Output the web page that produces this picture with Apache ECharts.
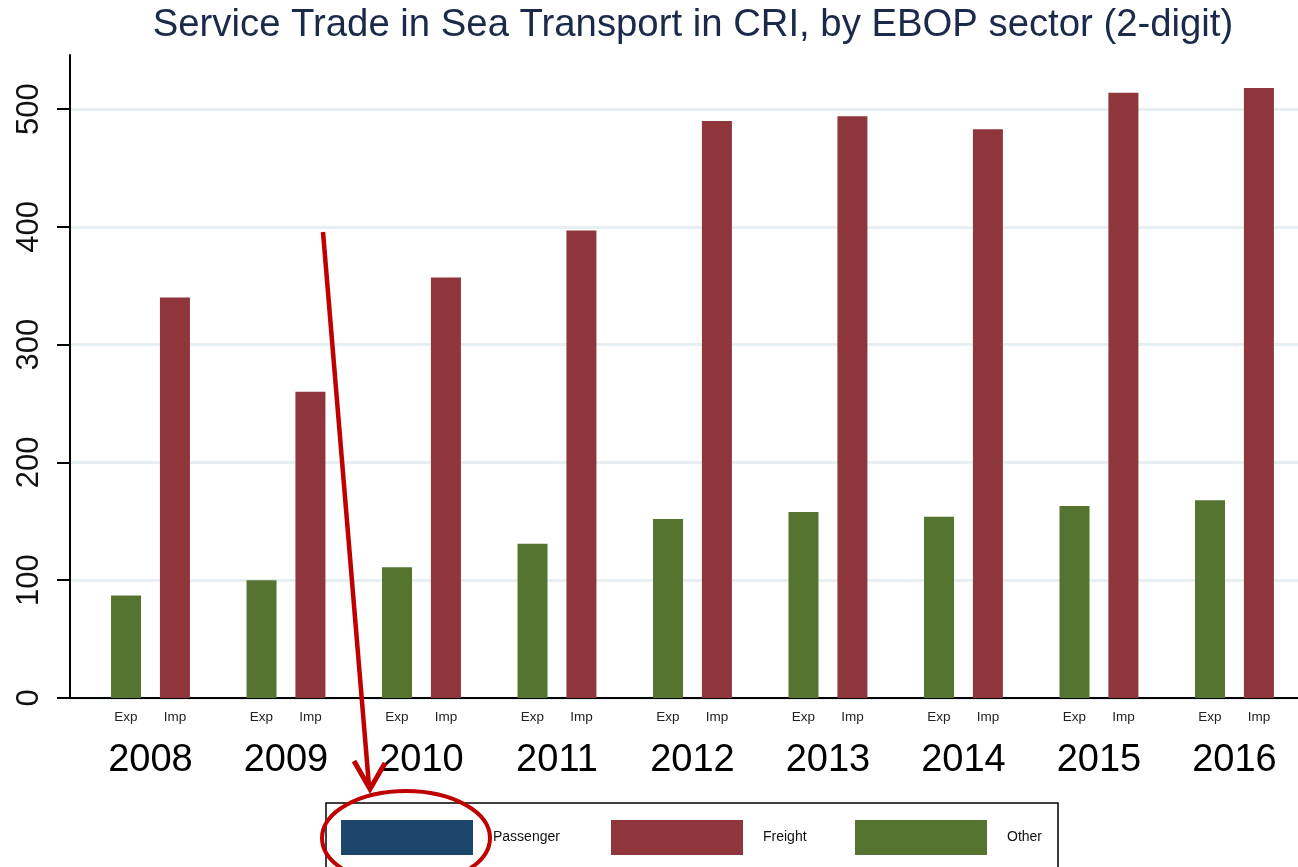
<!DOCTYPE html>
<html>
<head>
<meta charset="utf-8">
<script src="https://cdn.jsdelivr.net/npm/echarts@6/dist/echarts.min.js"></script>
<style>
    html, body { margin: 0; padding: 0; background: #fff; }
    #chart { width: 1298px; height: 867px; }
</style>
</head>
<body>
<div id="chart"></div>
<script>
    // data
    var years = [2008, 2009, 2010, 2011, 2012, 2013, 2014, 2015, 2016];
    var expOther = [87, 100, 111, 131, 152, 158, 154, 163, 168];
    var impFreight = [340, 260, 357, 397, 490, 494, 483, 514, 518];
    var passenger = [0, 0, 0, 0, 0, 0, 0, 0, 0];
    var yTicks = [0, 100, 200, 300, 400, 500];
    var flowLabels = ['Exp', 'Imp'];

    var blue = '#1c466c', red = '#8f353c', green = '#55742f';
    var font = '"Liberation Sans", Arial, sans-serif';

    function pairs(arr) {
        return years.map(function (y, i) { return [y, arr[i]]; });
    }

    var chart = echarts.init(document.getElementById('chart'));

    function legendAt(name, left) {
        return {
            data: [name],
            left: left,
            top: 815,
            itemWidth: 132,
            itemHeight: 35,
            icon: 'rect',
            textStyle: { fontFamily: font, fontSize: 14, color: '#111', padding: [0, 0, 0, 15] }
        };
    }

    var option = {
        animation: false,
        title: {
            text: 'Service Trade in Sea Transport in CRI, by EBOP sector (2-digit)',
            left: 688,
            top: 1,
            textAlign: 'center',
            textStyle: { fontFamily: font, fontSize: 38.3, fontWeight: 'normal', color: '#1b2a4b' }
        },
        legend: [
            legendAt('Passenger', 336),
            legendAt('Freight', 606),
            legendAt('Other', 850)
        ],
        grid: { left: 70, right: 0, top: 55, bottom: 169 },
        xAxis: {
            type: 'value',
            min: 2007.406,
            max: 2016.469,
            splitLine: { show: false },
            axisTick: { show: false },
            axisLine: { show: true, onZero: false, lineStyle: { color: '#000', width: 2 } },
            axisLabel: {
                customValues: years,
                margin: 8,
                fontFamily: font,
                formatter: function (v) {
                    return '{a|' + flowLabels[0] + '}{a|' + flowLabels[1] + '}\n{y|' + v + '}';
                },
                rich: {
                    a: { width: 49, align: 'center', fontSize: 13.5, lineHeight: 22, color: '#222', fontFamily: font },
                    y: { fontSize: 38, lineHeight: 66, color: '#000', fontFamily: font }
                }
            }
        },
        yAxis: {
            type: 'value',
            min: 0,
            max: 546,
            interval: 100,
            axisLine: { show: true, lineStyle: { color: '#000', width: 2 } },
            axisTick: { show: true, length: 13, customValues: yTicks, lineStyle: { color: '#000', width: 2 } },
            axisLabel: {
                customValues: yTicks,
                rotate: 90,
                margin: 25,
                fontFamily: font,
                fontSize: 31,
                color: '#111'
            },
            splitLine: { show: true, lineStyle: { color: '#e6eff1', width: 3 } }
        },
        series: [
            { name: 'Passenger', type: 'bar', stack: 'exp', data: pairs(passenger), itemStyle: { color: blue }, barWidth: 30, barGap: '63%' },
            { name: 'Other', type: 'bar', stack: 'exp', data: pairs(expOther), itemStyle: { color: green }, barWidth: 30, barGap: '63%' },
            { name: 'Passenger', type: 'bar', stack: 'imp', data: pairs(passenger), itemStyle: { color: blue }, barWidth: 30, barGap: '63%' },
            { name: 'Freight', type: 'bar', stack: 'imp', data: pairs(impFreight), itemStyle: { color: red }, barWidth: 30, barGap: '63%' }
        ],
        color: [blue, red, green],
        graphic: [
            // legend frame
            { type: 'rect', z: 1, shape: { x: 326, y: 803, width: 732, height: 100 }, style: { fill: 'none', stroke: '#000', lineWidth: 1.5 } },
            // hand-drawn annotation
            { type: 'line', z: 100, shape: { x1: 323, y1: 232, x2: 369, y2: 786 }, style: { stroke: '#c00000', lineWidth: 4.5 } },
            { type: 'polyline', z: 100, shape: { points: [[354, 761], [370, 789], [385, 763]] }, style: { stroke: '#c00000', lineWidth: 5, fill: 'none', lineJoin: 'miter' } },
            { type: 'ellipse', z: 100, shape: { cx: 406, cy: 838, rx: 84, ry: 47 }, style: { stroke: '#c00000', lineWidth: 4, fill: 'none' } }
        ]
    };

    chart.setOption(option);
</script>
</body>
</html>
